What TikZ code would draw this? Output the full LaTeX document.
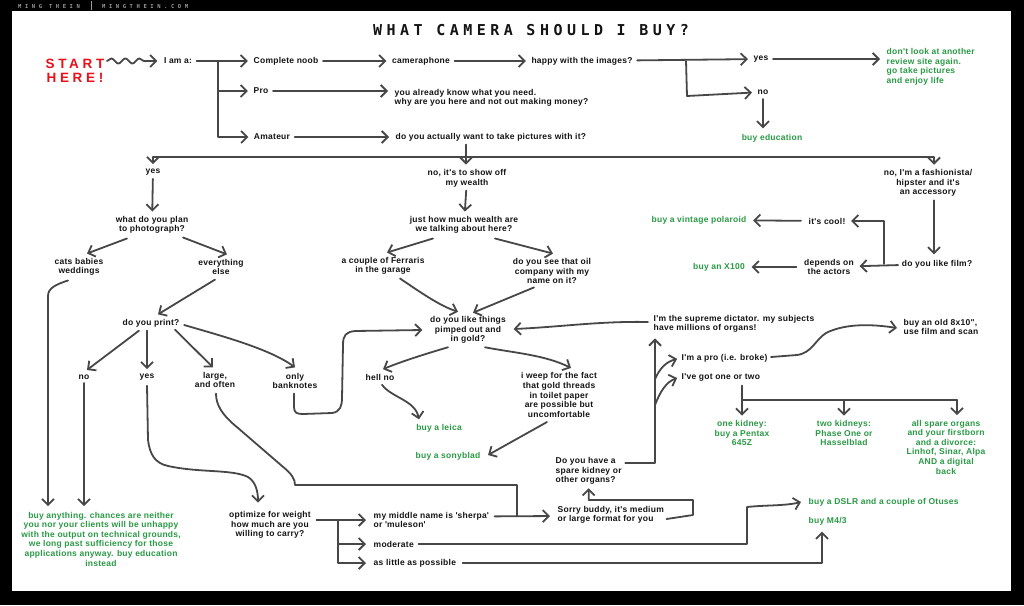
\documentclass[tikz,border=0pt]{standalone}
\usepackage{fontspec}
\usetikzlibrary{arrows.meta,calc,decorations.pathmorphing}
\newfontfamily\lblfam[LetterSpace=3]{Liberation Sans}
\newfontfamily\ttlfam[LetterSpace=30]{DejaVu Sans Mono}
\newfontfamily\stfam[LetterSpace=27]{Liberation Sans}
\newfontfamily\hdrfam[LetterSpace=65]{DejaVu Sans Mono}
\newcommand\lblfont{\lblfam\bfseries\fontsize{8.5}{9.6}\selectfont}
\newcommand\ttlfont{\ttlfam\bfseries\fontsize{15}{16}\selectfont}
\newcommand\stfont{\stfam\bfseries\fontsize{13.5}{14}\selectfont}
\newcommand\hdrfont{\hdrfam\bfseries\fontsize{5.5}{6}\selectfont}
\definecolor{ink}{HTML}{141414}
\definecolor{lc}{HTML}{474747}
\definecolor{grn}{HTML}{2A9A45}
\definecolor{redst}{HTML}{E8101A}
\definecolor{hdr}{HTML}{9A9A9A}
\begin{document}
\begin{tikzpicture}[x=1pt,y=-1pt,
  ln/.style={draw=lc,line width=1.8pt,line cap=round,line join=round},
  ar/.style={ln,-{Straight Barb[length=6pt,width=12pt,line width=1.8pt]}},
  lab/.style={font=\lblfont,text=ink,inner sep=1.5pt,align=center},
  glab/.style={lab,text=grn},
  llab/.style={lab,align=left,anchor=west},
  gllab/.style={glab,align=left,anchor=west},
]
\useasboundingbox (0,0) rectangle (1024,605);
\fill[black] (0,0) rectangle (1024,605);
\fill[white] (12,11) rectangle (1011,591);
% header
\node[anchor=west,font=\hdrfont,text=hdr,inner sep=0pt] (h1) at (18,6) {MING THEIN};
\draw[hdr,line width=0.8pt] (91,1) -- (91,10);
\node[anchor=west,font=\hdrfont,text=hdr,inner sep=0pt] (h2) at (102,6) {MINGTHEIN.COM};
% title
\node[font=\ttlfont,text=ink,inner sep=0pt] (title) at (531,30) {WHAT CAMERA SHOULD I BUY?};
\node[font=\stfont,text=redst,align=center,inner sep=0pt] (start) at (75,71) {START\\HERE!};
% nodes
\node[lab] (iama) at (178,61) {I am a:};
\node[lab] (noob) at (286,61) {Complete noob};
\node[lab] (pro) at (261,91) {Pro};
\node[lab] (amat) at (272,137) {Amateur};
\node[lab] (cam) at (421,61) {cameraphone};
\node[lab] (happy) at (582,61) {happy with the images?};
\node[lab] (yes1) at (761,59) {yes};
\node[lab] (no1) at (763,92) {no};
\node[gllab] (dontlook) at (885,67) {don't look at another\\review site again.\\go take pictures\\and enjoy life};
\node[glab] (buyedu) at (772,138) {buy education};
\node[llab] (know) at (393,98) {you already know what you need.\\why are you here and not out making money?};
\node[llab] (actually) at (394,137) {do you actually want to take pictures with it?};
\node[lab] (yes2) at (153,172) {yes};
\node[lab] (showoff) at (467,178) {no, it's to show off\\my wealth};
\node[lab] (fashion) at (928,183) {no, I'm a fashionista/\\hipster and it's\\an accessory};
\node[lab] (plan) at (152,225) {what do you plan\\to photograph?};
\node[lab] (cats) at (79,267) {cats babies\\weddings};
\node[lab] (every) at (221,267) {everything\\else};
\node[lab] (print) at (151,323) {do you print?};
\node[lab] (no2) at (84,377) {no};
\node[lab] (yes3) at (147,377) {yes};
\node[lab] (large) at (215,380) {large,\\and often};
\node[lab] (bank) at (295,381) {only\\banknotes};
\node[glab] (anything) at (101,539) {buy anything. chances are neither\\you nor your clients will be unhappy\\with the output on technical grounds,\\we long past sufficiency for those\\applications anyway. buy education\\instead};
\node[lab] (optimize) at (270,525) {optimize for weight\\how much are you\\willing to carry?};
\node[llab] (sherpa) at (372,520) {my middle name is \textquotesingle sherpa\textquotesingle\\or \textquotesingle muleson\textquotesingle};
\node[llab] (moderate) at (372,544) {moderate};
\node[llab] (little) at (372,563) {as little as possible};
\node[llab] (sorry) at (556,515) {Sorry buddy, it's medium\\or large format for you};
\node[llab] (kidney) at (554,471) {Do you have a\\spare kidney or\\other organs?};
\node[llab] (dictator) at (652,324) {I'm the supreme dictator. my subjects\\have millions of organs!};
\node[llab] (pro2) at (680,358) {I'm a pro (i.e. broke)};
\node[llab] (onetwo) at (680,377) {I've got one or two};
\node[llab] (old) at (902,327) {buy an old 8x10",\\use film and scan};
\node[glab] (k1) at (742,433) {one kidney:\\buy a Pentax\\645Z};
\node[glab] (k2) at (844,433) {two kidneys:\\Phase One or\\Hasselblad};
\node[glab] (k3) at (946,447) {all spare organs\\and your firstborn\\and a divorce:\\Linhof, Sinar, Alpa\\AND a digital\\back};
\node[lab] (wealth) at (464,225) {just how much wealth are\\we talking about here?};
\node[lab] (ferraris) at (383,266) {a couple of Ferraris\\in the garage};
\node[lab] (oil) at (552,271) {do you see that oil\\company with my\\name on it?};
\node[lab] (pimped) at (468,330) {do you like things\\pimped out and\\in gold?};
\node[lab] (hellno) at (380,377) {hell no};
\node[lab] (weep) at (559,395) {i weep for the fact\\that gold threads\\in toilet paper\\are possible but\\uncomfortable};
\node[glab] (leica) at (439,428) {buy a leica};
\node[glab] (sonyblad) at (448,456) {buy a sonyblad};
\node[lab] (film) at (937,264) {do you like film?};
\node[lab] (cool) at (827,221) {it's cool!};
\node[lab] (depends) at (829,267) {depends on\\the actors};
\node[glab] (polaroid) at (699,220) {buy a vintage polaroid};
\node[glab] (x100) at (719,267) {buy an X100};
\node[gllab] (dslr) at (807,502) {buy a DSLR and a couple of Otuses};
\node[gllab] (m43) at (807,521) {buy M4/3};
% connectors: top
\coordinate (sq) at (107,61);
\draw[ar,decorate,decoration={snake,amplitude=2.6pt,segment length=14pt,post length=8pt}] (sq) -- ([xshift=-5pt]iama.west);
\draw[ar,shorten <=3pt,shorten >=4pt] (iama) -- (noob);
\coordinate (tr) at (218,61);
\draw[ar,shorten >=4pt] (tr) |- (pro);
\draw[ar,shorten >=4pt] (tr) |- (amat);
\draw[ar,shorten <=3pt,shorten >=4pt] (noob) -- (cam);
\draw[ar,shorten <=3pt,shorten >=4pt] (cam) -- (happy);
\coordinate (hb) at (686,61);
\draw[ar,shorten <=3pt,shorten >=4pt] (happy) -- (yes1);
\draw[ar,shorten >=4pt] (hb) -- (687,96) -- (no1);
\draw[ar,shorten <=3pt,shorten >=5pt] (yes1) -- (dontlook.west |- yes1);
\draw[ar,shorten <=3pt,shorten >=4pt] (no1) -- (no1 |- buyedu.north);
\draw[ar,shorten <=3pt,shorten >=5pt] (pro) -- (know.west |- pro);
\draw[ar,shorten <=3pt,shorten >=5pt] (amat) -- (actually);
\coordinate (bar) at (466,157);
\draw[ln,shorten <=2pt] (actually.south -| bar) -- (bar);
\draw[ar,shorten >=3pt] (bar) -- (bar |- showoff.north);
\draw[ar,shorten >=3pt] (bar) -| (yes2.north);
\draw[ar,shorten >=3pt] (bar) -| ($(fashion.north)+(6,0)$);
% left branch
\draw[ar,shorten <=2pt,shorten >=3pt] (showoff) -- (wealth);
\draw[ar,shorten <=2pt,shorten >=3pt] (yes2) -- (plan);
\draw[ar] ($(plan.south)+(-25,3)$) -- ($(cats.north)+(8,-3)$);
\draw[ar] ($(plan.south)+(31,2)$) -- ($(every.north)+(6,-3)$);
\coordinate (cx) at (48,296);
\draw[ar,shorten >=4pt] ($(cats.south)+(-11,3)$) .. controls +(-12,4) and +(0,-8) .. (cx) -- (cx |- anything.north);
\draw[ar] ($(every.south)+(-6,3)$) -- ($(print.north)+(7,-3)$);
\draw[ar] ($(print.south)+(-12,2)$) -- ($(no2.north)+(3,-3)$);
\draw[ar,shorten <=2pt,shorten >=3pt] (yes3 |- print.south) -- (yes3.north);
\draw[ar] ($(print.south)+(24,1)$) -- ($(large.north)+(-2,-3)$);
\draw[ar] ($(print.east)+(3,2)$) .. controls (222,336) and (270,349) .. ($(bank.north)+(0,-4)$);
\draw[ar,shorten <=2pt,shorten >=4pt] (no2) -- (no2 |- anything.north);
\draw[ar] ($(yes3.south)+(0,4)$) -- (148,440) .. controls (150,455) and (155,463) .. (168,466) .. controls (200,473) and (232,469) .. (248,477) .. controls (256,482) and (258,492) .. ($(optimize.north)+(-12,-7)$);
\draw[ln] ($(large.south)+(1,4)$) .. controls (216,405) and (222,415) .. (238,428) -- (282,466) .. controls (292,474) and (295,479) .. (295,485) -- (517,485) -- (517,516);
\draw[ar] ($(bank.south)+(-1,3)$) -- (294,407) .. controls (294,413) and (297,414) .. (303,414) -- (332,413) .. controls (340,412) and (342,406) .. (342,398) -- (343,345) .. controls (343,335) and (346,332) .. (355,331) -- ($(pimped.west)+(-6,0)$);
% middle branch
\draw[ar] ($(wealth.south)+(-31,3)$) -- ($(ferraris.north)+(4,-3)$);
\draw[ar] ($(wealth.south)+(31,3)$) -- ($(oil.north)+(1,-3)$);
\draw[ar] ($(ferraris.south)+(17,2)$) .. controls (420,292) and (440,306) .. ($(pimped.north)+(-10,-3)$);
\draw[ar] ($(oil.south)+(-18,2)$) -- ($(pimped.north)+(5,-2)$);
\draw[ar] ($(dictator.west)+(-4,-2)$) .. controls (600,321) and (560,327) .. ($(pimped.east)+(6,-1)$);
\draw[ar] ($(pimped.south)+(-20,2)$) .. controls (425,354) and (400,362) .. ($(hellno.north)+(3,-3)$);
\draw[ar] ($(pimped.south)+(17,2)$) .. controls (515,353) and (545,355) .. ($(weep.north)+(12,-3)$);
\draw[ar] ($(hellno.south)+(2,3)$) .. controls (392,398) and (415,400) .. ($(leica.north)+(-20,-3)$);
\draw[ar] ($(weep.south)+(-12,3)$) -- ($(sonyblad.east)+(6,-1)$);
% bottom
\coordinate (ot) at (338,520);
\coordinate (jn) at (517,516);
\draw[ar,shorten <=4pt,shorten >=6pt] (optimize.east |- ot) -- (sherpa.west |- ot);
\draw[ar,shorten >=6pt] (ot) |- (moderate.west);
\draw[ar,shorten >=6pt] (ot) |- (little.west);
\draw[ar,shorten >=6pt] ($(sherpa.north east)+(4,6)$) -- (sorry.west |- jn);
\draw[ar] ($(sorry.east)+(1,4)$) -- (693,515) -- (693,500) -| ($(kidney.south)+(0,2)$);
\coordinate (kv) at (655,463);
\draw[ar,shorten <=2pt] (kidney.east |- kv) -- (kv) -- ($(kv |- dictator.south)+(0,4)$);
\draw[ar,shorten >=3pt] (655,379) .. controls (660,368) and (666,362) .. (pro2.west);
\draw[ar,shorten >=3pt] (655,405) .. controls (660,392) and (666,382) .. (onetwo.west);
\draw[ar] ($(pro2.east)+(2,-1)$) -- (797,355) .. controls (812,353) and (815,340) .. (826,333) .. controls (842,325) and (865,323) .. ($(old.west)+(-5,1)$);
\coordinate (kb) at (0,400);
\draw[ln] ($(k1.north |- onetwo.south)+(0,3)$) -- (k1.north |- kb) -- ($(k3.north |- kb)+(11,0)$);
\draw[ar,shorten >=3pt] (k1.north |- kb) -- (k1.north);
\draw[ar,shorten >=3pt] (k2.north |- kb) -- (k2.north);
\draw[ar,shorten >=3pt] ($(k3.north |- kb)+(11,0)$) -- ($(k3.north)+(11,0)$);
% right branch
\draw[ar,shorten >=4pt] ($(fashion.south)+(6,2)$) -- ($(film.north)+(-3,0)$);
\coordinate (fv) at (884,264);
\draw[ar,shorten <=2pt,shorten >=4pt] (film) -- (depends);
\draw[ar,shorten >=4pt] (fv) |- (cool);
\draw[ar,shorten <=6pt,shorten >=5pt] (cool) -- (polaroid);
\draw[ar,shorten <=6pt,shorten >=5pt] (depends) -- (x100);
\draw[ar] ($(moderate.east)+(3,0)$) -- (747,544) -- (747,507) .. controls (765,505) and (785,506) .. ($(dslr.west)+(-6,0)$);
\draw[ar] ($(little.east)+(5,0)$) -| ($(m43.south west)+(15,5)$);
\end{tikzpicture}
\end{document}
